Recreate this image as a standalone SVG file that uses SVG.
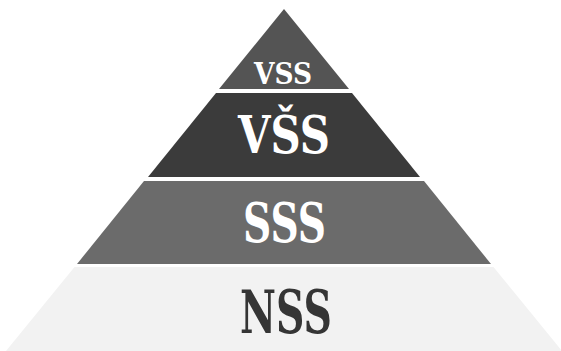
<svg xmlns="http://www.w3.org/2000/svg" width="561" height="351" viewBox="0 0 561 351">
<style>
.lbl{font-family:"DejaVu Serif","Liberation Serif",serif;font-weight:bold;text-anchor:middle}
.w{fill:#ffffff}
.d{fill:#353535}
</style>
<rect width="561" height="351" fill="#ffffff"/>
<g id="nss">
<polygon points="74.5,267 493.5,267 562,351 6,351" fill="#f2f2f2"/>
<text class="lbl d" x="286" y="333" font-size="59" textLength="92" lengthAdjust="spacingAndGlyphs">NSS</text>
</g>
<g id="sss">
<polygon points="144,181 424,181 491,264 77,264" fill="#6b6b6b"/>
<text class="lbl w" x="284.5" y="242" font-size="55" textLength="83" lengthAdjust="spacingAndGlyphs">SSS</text>
</g>
<g id="vss2">
<polygon points="216,93 352,93 420,177 148,177" fill="#3b3b3b"/>
<text class="lbl w" x="284" y="153" font-size="52" textLength="92" lengthAdjust="spacingAndGlyphs">VŠS</text>
</g>
<g id="vss">
<polygon points="284,9 349,89 219,89" fill="#545454"/>
<text class="lbl w" x="283" y="84" font-size="29" textLength="58" lengthAdjust="spacingAndGlyphs">VSS</text>
</g>
</svg>
